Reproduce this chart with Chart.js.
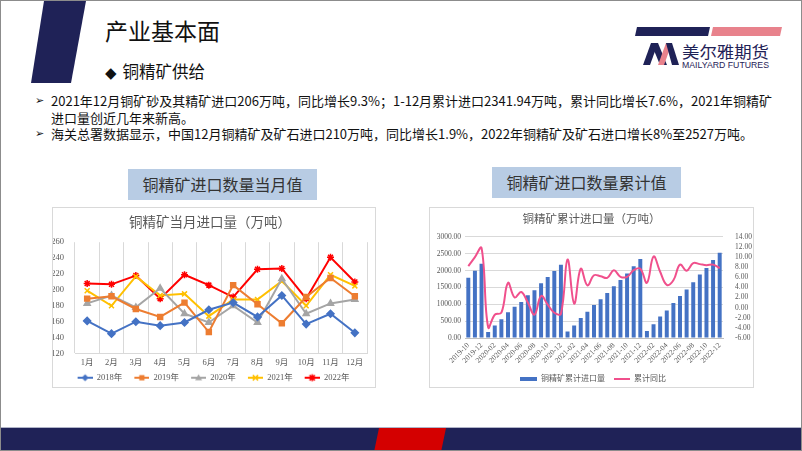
<!DOCTYPE html>
<html lang="zh">
<head>
<meta charset="UTF-8">
<title>产业基本面 - 铜精矿供给</title>
<script src="https://cdn.jsdelivr.net/npm/chart.js"></script>
<style>
  body { margin: 0; background: #fff; font-family: "Noto Sans CJK SC", sans-serif; }
  .slide { position: relative; width: 802px; height: 451px; overflow: hidden; background: #fff; box-sizing: border-box; border: 1px solid #8c8c8c; }
  .deco { position: absolute; left: 0; top: 0; }
  .title { position: absolute; left: 104px; top: 12px; font-size: 23px; color: #111; white-space: nowrap; }
  .sub { position: absolute; left: 104px; top: 58px; font-size: 16.5px; color: #111; white-space: nowrap; }
  .sub .dia { font-family: "DejaVu Sans"; font-size: 15px; margin-right: 6px; }
  .bullets { position: absolute; left: 50px; top: 92px; font-size: 13px; line-height: 16.5px; color: #111; white-space: nowrap; }
  .bullets .arrow { position: absolute; left: -16px; font-family: "DejaVu Sans"; font-size: 11px; }
  .box { position: absolute; height: 31px; background: #b8cce4; color: #333; font-size: 16px; line-height: 31px; text-align: center; }
  .panel { position: absolute; border: 1px solid #d9d9d9; box-sizing: border-box; background: #fff; }
  .chartbox { position: absolute; }
</style>
</head>
<body>
<div class="slide">
  <svg class="deco" width="802" height="451">
    <polygon points="43,0 85,0 70,82 30,82" fill="#1f2257"/>
    <!-- logo -->
    <polygon points="636,26 709,26 707,35 634,35" fill="#1f2257"/>
    <polygon points="712,26 781,26 779,35 710,35" fill="#e8828c"/>
    <polygon points="642,64 650,42 657,42 649,64" fill="#1f2257"/>
    <polygon points="650,42 657,42 666,64 659,64" fill="#1f2257"/>
    <polygon points="657,64 665,42 671,42 663,64" fill="#e8828c"/>
    <polygon points="665,42 671,42 678,64 671,64" fill="#1f2257"/>
    <text x="681" y="57" font-family="Noto Sans CJK SC" font-size="16" fill="#1f2257" textLength="87" lengthAdjust="spacingAndGlyphs">美尔雅期货</text>
    <text x="681" y="67" font-family="Liberation Sans" font-size="9" fill="#1f2257" textLength="87" lengthAdjust="spacingAndGlyphs">MAILYARD FUTURES</text>
    <!-- bottom band -->
    <rect x="0" y="426" width="802" height="1" fill="#b0b4c8"/>
    <rect x="0" y="427" width="802" height="24" fill="#1f2257"/>
    <polygon points="378,427 445,427 440,451 373,451" fill="#d40000"/>
  </svg>

  <div class="title">产业基本面</div>
  <div class="sub"><span class="dia">◆</span>铜精矿供给</div>

  <div class="bullets">
    <div><span class="arrow">➢</span>2021年12月铜矿砂及其精矿进口206万吨，同比增长9.3%；1-12月累计进口2341.94万吨，累计同比增长7.6%，2021年铜精矿</div>
    <div>进口量创近几年来新高。</div>
    <div><span class="arrow">➢</span>海关总署数据显示，中国12月铜精矿及矿石进口210万吨，同比增长1.9%，2022年铜精矿及矿石进口增长8%至2527万吨。</div>
  </div>

  <div class="box" style="left:127px; top:168px; width:189px;">铜精矿进口数量当月值</div>
  <div class="box" style="left:491px; top:166px; width:189px;">铜精矿进口数量累计值</div>

  <div class="panel" style="left:51px; top:206px; width:324px; height:181px;"></div>
  <div class="panel" style="left:428px; top:206px; width:325px; height:181px;"></div>

  <div class="chartbox" style="left:52px; top:207px; width:322px; height:184px;"><canvas id="monthChart"></canvas></div>
  <div class="chartbox" style="left:429px; top:207px; width:323px; height:185px;"><canvas id="cumChart"></canvas></div>
</div>

<script>
// monthly imports (万吨)
const months = ['1月','2月','3月','4月','5月','6月','7月','8月','9月','10月','11月','12月'];
const yearNames = ['2018年','2019年','2020年','2021年','2022年'];
const imp2018 = [161,145,160,155,159,175,184,166,193,157,170,146];
const imp2019 = [189,192,176,166,184,147,206,182,158,191,215,192];
const imp2020 = [183,193,178,202,170,159,180,159,214,170,183,188];
const imp2021 = [199,180,217,193,195,167,188,188,211,180,219,205];
const imp2022 = [208,207,218,189,219,206,191,226,227,189,241,210];
const monthTicks = [120,140,160,180,200,220,240,260];

// cumulative imports (万吨) and cumulative yoy (%)
const cumLabels = ['2019-10','2019-11','2019-12',
  '2020-01','2020-02','2020-03','2020-04','2020-05','2020-06','2020-07','2020-08','2020-09','2020-10','2020-11','2020-12',
  '2021-01','2021-02','2021-03','2021-04','2021-05','2021-06','2021-07','2021-08','2021-09','2021-10','2021-11','2021-12',
  '2022-01','2022-02','2022-03','2022-04','2022-05','2022-06','2022-07','2022-08','2022-09','2022-10','2022-11','2022-12'];
const cumImport = [1788,1994,2199,
  175,370,555,760,925,1069,1264,1418,1624,1809,1984,2169,
  195,370,596,781,976,1151,1336,1531,1716,1912,2127,2342,
  205,411,637,812,1038,1244,1439,1655,1881,2076,2312,2527];
const cumYoy = [8.2,10.0,11.8,
  -3.9,-1.4,-1.0,4.9,2.0,3.1,1.0,-1.4,2.3,0.6,-1.0,-1.2,
  9.5,0.8,7.7,4.4,6.4,6.2,5.9,7.4,6.1,6.1,7.4,7.7,
  4.9,10.1,7.1,4.5,5.4,8.5,7.3,8.8,8.6,8.4,8.5,7.8];

const serif = '"Liberation Serif", "Noto Sans CJK SC", serif';
Chart.defaults.font.family = serif;
Chart.defaults.color = '#595959';

const lineColors = ['#4472c4','#ed7d31','#a5a5a5','#ffc000','#ff0000'];
const markers = ['rectRot','rect','triangle','crossRot','star'];

function drawMarker(ctx, style, x, y, r, color) {
  ctx.fillStyle = color; ctx.strokeStyle = color; ctx.lineWidth = 1.5;
  ctx.beginPath();
  if (style === 'rectRot') {
    ctx.moveTo(x, y - r); ctx.lineTo(x + r, y); ctx.lineTo(x, y + r); ctx.lineTo(x - r, y); ctx.closePath(); ctx.fill();
  } else if (style === 'rect') {
    ctx.rect(x - r * 0.75, y - r * 0.75, r * 1.5, r * 1.5); ctx.fill();
  } else if (style === 'triangle') {
    ctx.moveTo(x, y - r); ctx.lineTo(x + r, y + r * 0.7); ctx.lineTo(x - r, y + r * 0.7); ctx.closePath(); ctx.fill();
  } else {
    const d = r * 0.75;
    ctx.moveTo(x - d, y - d); ctx.lineTo(x + d, y + d);
    ctx.moveTo(x + d, y - d); ctx.lineTo(x - d, y + d);
    if (style === 'star') { ctx.moveTo(x, y - r); ctx.lineTo(x, y + r); }
    ctx.stroke();
  }
}

function lineIcon(color, style, w, gap) {
  const c = document.createElement('canvas');
  c.width = w; c.height = 10;
  const ctx = c.getContext('2d');
  ctx.strokeStyle = color; ctx.lineWidth = 2;
  ctx.beginPath(); ctx.moveTo(gap, 5); ctx.lineTo(w, 5); ctx.stroke();
  if (style) drawMarker(ctx, style, gap + (w - gap) / 2, 5, 3.5, color);
  return c;
}

function barIcon(color, w, gap) {
  const c = document.createElement('canvas');
  c.width = w; c.height = 6;
  const ctx = c.getContext('2d');
  ctx.fillStyle = color;
  ctx.fillRect(gap, 1, w - gap, 4);
  return c;
}

function iconLegend(icons) {
  return function (chart) {
    return chart.data.datasets.map((ds, i) => ({
      text: ds.label, datasetIndex: i, hidden: false,
      pointStyle: icons[i], fillStyle: 'transparent', strokeStyle: 'transparent', lineWidth: 0,
      fontColor: '#595959'
    }));
  };
}

// left chart
const yearSeries = [imp2018, imp2019, imp2020, imp2021, imp2022];
const monthIcons = lineColors.map((c, i) => lineIcon(c, markers[i], 22, 7));
new Chart(document.getElementById('monthChart'), {
  type: 'line',
  data: {
    labels: months,
    datasets: yearSeries.map((vals, i) => ({
      label: yearNames[i],
      data: vals,
      borderColor: lineColors[i],
      backgroundColor: lineColors[i],
      borderWidth: 2,
      pointStyle: markers[i],
      pointRadius: 3.5,
      pointBorderWidth: 1.5,
      tension: 0
    }))
  },
  options: {
    responsive: true, maintainAspectRatio: false, animation: false,
    layout: { padding: { left: 0, right: 8, top: 0, bottom: 0 } },
    plugins: {
      title: { display: true, text: '铜精矿当月进口量（万吨）', color: '#595959',
               font: { size: 13.5, family: serif, weight: 'normal' }, padding: { top: 7, bottom: 11 } },
      legend: { position: 'bottom',
                labels: { usePointStyle: true, pointStyleWidth: 22, padding: 5,
                          font: { size: 8.5 }, generateLabels: iconLegend(monthIcons) } },
      tooltip: { enabled: false }
    },
    scales: {
      x: { offset: true,
           grid: { offset: true, color: '#d9d9d9', drawTicks: false },
           border: { color: '#d9d9d9' },
           ticks: { font: { size: 8.5 }, padding: 4, maxRotation: 0, autoSkip: false },
           afterFit: s => { s.height = 15; } },
      y: { min: 120, max: 260,
           afterBuildTicks: s => { s.ticks = monthTicks.map(v => ({ value: v })); },
           grid: { display: false }, border: { display: false },
           ticks: { font: { size: 8.5 }, padding: 3, autoSkip: false },
           afterFit: s => { s.width = 22; } }
    }
  }
});

// right chart
const barColor = '#4472c4';
const yoyColor = '#f0508c';
new Chart(document.getElementById('cumChart'), {
  type: 'bar',
  data: {
    labels: cumLabels,
    datasets: [
      { type: 'bar', label: '铜精矿累计进口量', data: cumImport, backgroundColor: barColor,
        categoryPercentage: 1, barPercentage: 0.6, yAxisID: 'y', order: 2 },
      { type: 'line', label: '累计同比', data: cumYoy, borderColor: yoyColor, backgroundColor: yoyColor,
        borderWidth: 2, pointRadius: 0, tension: 0.4, yAxisID: 'y1', order: 1 }
    ]
  },
  options: {
    responsive: true, maintainAspectRatio: false, animation: false,
    layout: { padding: 0 },
    plugins: {
      title: { display: true, text: '铜精矿累计进口量（万吨）', color: '#595959',
               font: { size: 11.5, family: serif, weight: 'normal' }, padding: { top: 5, bottom: 10 } },
      legend: { position: 'bottom',
                labels: { usePointStyle: true, pointStyleWidth: 20, padding: 5, font: { size: 8 },
                          generateLabels: iconLegend([barIcon(barColor, 20, 3), lineIcon(yoyColor, null, 20, 4)]) } },
      tooltip: { enabled: false }
    },
    scales: {
      x: { grid: { display: false, drawTicks: false }, border: { color: '#bfbfbf' },
           ticks: { autoSkip: false, minRotation: 45, maxRotation: 45, font: { size: 7.5 }, padding: 3,
                    callback: function (v, i) { return i % 2 === 0 ? this.getLabelForValue(v) : ''; } },
           afterFit: s => { s.height = 32; } },
      y: { position: 'left', min: 0, max: 3000,
           grid: { color: '#d9d9d9', drawTicks: false }, border: { display: false },
           ticks: { stepSize: 500, autoSkip: false, font: { size: 7.5 }, padding: 4, callback: v => v.toFixed(2) },
           afterFit: s => { s.width = 35; } },
      y1: { position: 'right', min: -6, max: 14,
            grid: { display: false }, border: { display: false },
            ticks: { stepSize: 2, autoSkip: false, font: { size: 7.5 }, padding: 4, callback: v => v.toFixed(2) },
            afterFit: s => { s.width = 30; } }
    }
  }
});
</script>
</body>
</html>
